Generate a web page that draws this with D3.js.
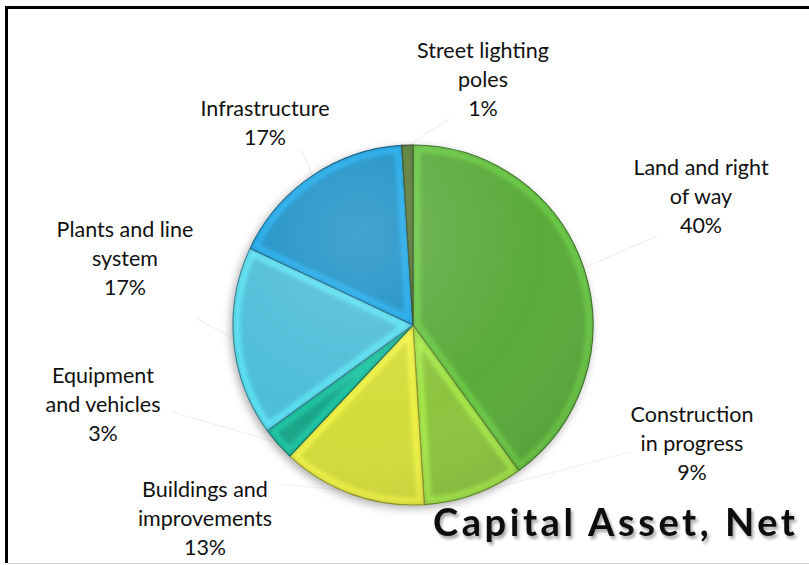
<!DOCTYPE html>
<html>
<head>
<meta charset="utf-8">
<script src="https://cdn.jsdelivr.net/npm/d3@7/dist/d3.min.js"></script>
<style>
  html, body { margin: 0; padding: 0; background: #fff; }
  svg { display: block; }
</style>
</head>
<body>
<svg id="chart" width="809" height="565"></svg>
<script>
// Capital assets, net — share of each asset class
const categories = [
  "Land and right of way",
  "Construction in progress",
  "Buildings and improvements",
  "Equipment and vehicles",
  "Plants and line system",
  "Infrastructure",
  "Street lighting poles"
];
const values = [40, 9, 13, 3, 17, 17, 1];
const labelLines = [
  ["Land and right", "of way"],
  ["Construction", "in progress"],
  ["Buildings and", "improvements"],
  ["Equipment", "and vehicles"],
  ["Plants and line", "system"],
  ["Infrastructure"],
  ["Street lighting", "poles"]
];
const sliceColors = ["#5aaa3b", "#8cc43f", "#d3dd3b", "#19a588", "#4dbdd8", "#1a8fc6", "#4a6a2c"];
const chartTitle = "Capital Asset, Net";

const W = 809, H = 565;
const cx = 413, cy = 325, R = 180;

// label placement: centre x, first baseline, and leader line endpoints
const labelLayout = [
  { x: 701, y: 175, lead: [[657, 236], [584, 268]] },
  { x: 692, y: 422, lead: [[630, 452], [476, 493]] },
  { x: 205, y: 497, lead: [[278, 484], [340, 490]] },
  { x: 103, y: 383, lead: [[172, 412], [272, 441]] },
  { x: 125, y: 237, lead: [[196, 318], [236, 340]] },
  { x: 265, y: 116, lead: [[301, 149], [312, 175]] },
  { x: 483, y: 58,  lead: [[449, 119], [409, 145]] }
];
const lineGap = 29;

const svg = d3.select("#chart");
const defs = svg.append("defs");

// soft shadow under the pie
const shadow = defs.append("filter").attr("id", "pieShadow")
  .attr("x", "-20%").attr("y", "-20%").attr("width", "140%").attr("height", "140%");
shadow.append("feDropShadow")
  .attr("dx", -2).attr("dy", 3).attr("stdDeviation", 5)
  .attr("flood-color", "#000").attr("flood-opacity", 0.35);

// blur used for the bevelled inner edge of each slice
const bevelBlur = defs.append("filter").attr("id", "bevelBlur")
  .attr("x", "-10%").attr("y", "-10%").attr("width", "120%").attr("height", "120%");
bevelBlur.append("feGaussianBlur").attr("stdDeviation", 2.2);

// title shadow
const titleShadow = defs.append("filter").attr("id", "titleShadow")
  .attr("x", "-10%").attr("y", "-30%").attr("width", "120%").attr("height", "160%");
titleShadow.append("feDropShadow")
  .attr("dx", 2).attr("dy", 3).attr("stdDeviation", 1.8)
  .attr("flood-color", "#000").attr("flood-opacity", 0.35);

// overall sheen across the pie
const sheen = defs.append("radialGradient").attr("id", "sheen")
  .attr("cx", "35%").attr("cy", "25%").attr("r", "85%");
sheen.append("stop").attr("offset", "0%").attr("stop-color", "#fff").attr("stop-opacity", 0.18);
sheen.append("stop").attr("offset", "60%").attr("stop-color", "#fff").attr("stop-opacity", 0.0);
sheen.append("stop").attr("offset", "100%").attr("stop-color", "#000").attr("stop-opacity", 0.10);

// frame
svg.append("rect").attr("x", 0).attr("y", 0).attr("width", W).attr("height", H).attr("fill", "#fff");
svg.append("line").attr("x1", 6.5).attr("x2", 6.5).attr("y1", 6).attr("y2", 563)
  .attr("stroke", "#000").attr("stroke-width", 3);
svg.append("line").attr("x1", 5).attr("x2", W).attr("y1", 7.5).attr("y2", 7.5)
  .attr("stroke", "#000").attr("stroke-width", 3);
svg.append("line").attr("x1", 8).attr("x2", W).attr("y1", 563.5).attr("y2", 563.5)
  .attr("stroke", "#d0d0d0").attr("stroke-width", 1);

const pie = d3.pie().sort(null).value(d => d).startAngle(0).endAngle(2 * Math.PI);
const arcs = pie(values);
const arc = d3.arc().innerRadius(0).outerRadius(R);

// leader lines (drawn first, very faint)
const leaders = svg.append("g");
labelLayout.forEach(l => {
  leaders.append("path")
    .attr("d", d3.line()(l.lead))
    .attr("fill", "none")
    .attr("stroke", "#e2e2e2")
    .attr("stroke-width", 1.2)
    .attr("opacity", 0.5);
});

const pieG = svg.append("g").attr("transform", `translate(${cx},${cy})`);
const shadowG = pieG.append("g").attr("filter", "url(#pieShadow)");
shadowG.append("path").attr("d", d3.arc().innerRadius(0).outerRadius(R)({ startAngle: 0, endAngle: 2 * Math.PI }))
  .attr("fill", "#888");

arcs.forEach((a, i) => {
  const id = "clip" + i;
  defs.append("clipPath").attr("id", id)
    .append("path").attr("d", arc(a)).attr("transform", `translate(${cx},${cy})`);
  const base = d3.color(sliceColors[i]);
  const g = pieG.append("g");
  const inner = g.append("g").attr("clip-path", `url(#${id})`).attr("transform", `translate(${-cx},${-cy})`)
    .append("g").attr("transform", `translate(${cx},${cy})`);
  inner.append("path").attr("d", arc(a)).attr("fill", base.formatHex());
  // lighter bevel band along the slice edges
  inner.append("path").attr("d", arc(a))
    .attr("fill", "none")
    .attr("stroke", base.brighter(0.7).formatHex())
    .attr("stroke-width", 14)
    .attr("stroke-opacity", 0.75)
    .attr("filter", "url(#bevelBlur)");
  inner.append("path").attr("d", arc(a))
    .attr("fill", "none")
    .attr("stroke", base.darker(0.5).formatHex())
    .attr("stroke-width", 3)
    .attr("stroke-opacity", 0.6)
    .attr("filter", "url(#bevelBlur)");
  g.append("path").attr("d", arc(a))
    .attr("fill", "none")
    .attr("stroke", base.darker(1.1).formatHex())
    .attr("stroke-width", 1.1)
    .attr("stroke-linejoin", "round");
});

pieG.append("path")
  .attr("d", d3.arc().innerRadius(0).outerRadius(R)({ startAngle: 0, endAngle: 2 * Math.PI }))
  .attr("fill", "url(#sheen)")
  .attr("pointer-events", "none");

// labels
const total = d3.sum(values);
const pct = v => Math.round(v / total * 100) + "%";
const labels = svg.append("g")
  .attr("font-family", "Lato, 'Open Sans', sans-serif")
  .attr("font-size", 21.5)
  .attr("fill", "#111")
  .attr("text-anchor", "middle");
arcs.forEach((a, i) => {
  const l = labelLayout[i];
  const lines = labelLines[i].concat([pct(a.data)]);
  const t = labels.append("text").attr("x", l.x).attr("y", l.y);
  lines.forEach((s, k) => {
    t.append("tspan").attr("x", l.x).attr("y", l.y + k * lineGap).text(s);
  });
});

// title
svg.append("text")
  .attr("x", 433).attr("y", 536)
  .attr("font-family", "Lato, 'Open Sans', sans-serif")
  .attr("font-weight", 700)
  .attr("font-size", 38)
  .attr("fill", "#0a0a0a")
  .attr("textLength", 362)
  .attr("lengthAdjust", "spacing")
  .attr("filter", "url(#titleShadow)")
  .text(chartTitle);
</script>
</body>
</html>
